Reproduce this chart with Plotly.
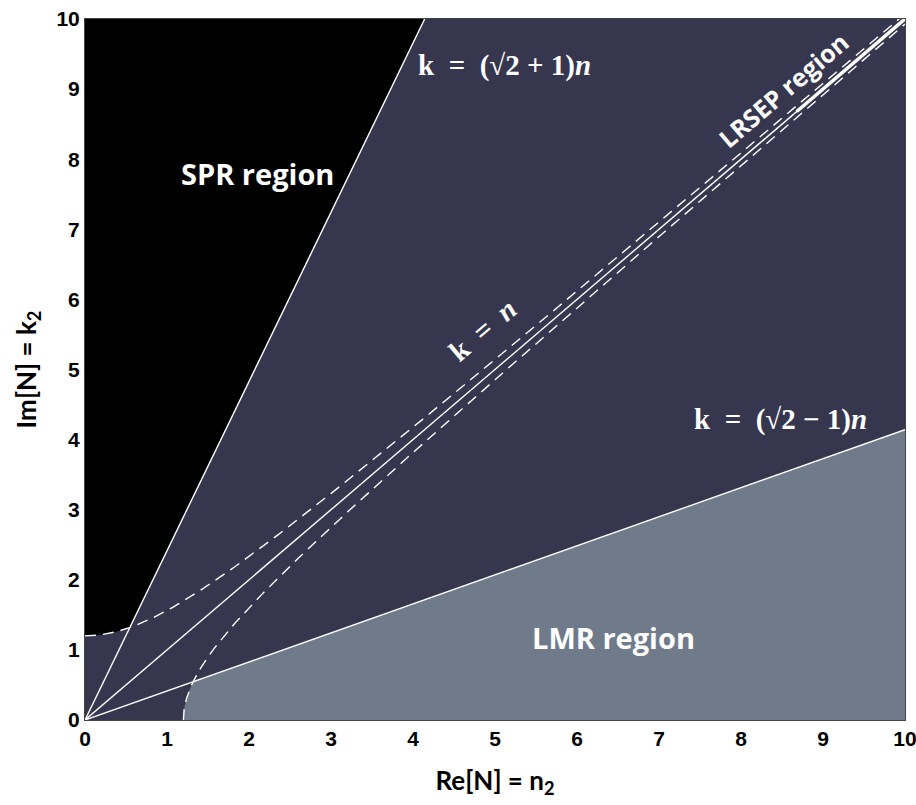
import numpy as np
import plotly.graph_objects as go

# ---- data / definitions ----
tick_vals = [0, 1, 2, 3, 4, 5, 6, 7, 8, 9, 10]
tick_text = ["0", "1", "2", "3", "4", "5", "6", "7", "8", "9", "10"]
slope_upper = np.sqrt(2) + 1      # k = (sqrt2 + 1) n
slope_lower = np.sqrt(2) - 1      # k = (sqrt2 - 1) n
slope_mid = 1.0                   # k = n
hyper_c = 1.2                     # offset of hyperbolic boundaries k^2 - n^2 = +/- c^2
lrsep_range = [8.68, 10.0]        # thick LRSEP segment along k = n
axis_max = 10.0

NAVY = "#37364f"
SLATE = "#6f7b8b"
BLACK = "#000000"
WHITE = "#ffffff"

fig = go.Figure()

# SPR region (black)
n_int_up = np.sqrt(hyper_c**2 / (slope_upper**2 - 1))
n_h = np.linspace(0, n_int_up, 60)
k_h = np.sqrt(n_h**2 + hyper_c**2)
spr_x = [0.0] + list(n_h) + [axis_max / slope_upper, 0.0]
spr_y = [axis_max] + list(k_h) + [axis_max, axis_max]
fig.add_trace(go.Scatter(x=spr_x, y=spr_y, fill="toself", fillcolor=BLACK,
                         line=dict(width=0), mode="lines", hoverinfo="skip", showlegend=False))

# LMR region (slate)
n_int_lo = np.sqrt(hyper_c**2 / (1 - slope_lower**2))
n_l = np.linspace(hyper_c, n_int_lo, 60)
k_l = np.sqrt(np.maximum(n_l**2 - hyper_c**2, 0))
lmr_x = list(n_l) + [axis_max, axis_max, hyper_c]
lmr_y = list(k_l) + [axis_max * slope_lower, 0.0, 0.0]
fig.add_trace(go.Scatter(x=lmr_x, y=lmr_y, fill="toself", fillcolor=SLATE,
                         line=dict(width=0), mode="lines", hoverinfo="skip", showlegend=False))

# Dashed hyperbolas
dash_style = dict(color=WHITE, width=1.4, dash="11px,7px")
n_a = np.linspace(0, axis_max, 300)
fig.add_trace(go.Scatter(x=n_a, y=np.sqrt(n_a**2 + hyper_c**2), mode="lines",
                         line=dash_style, hoverinfo="skip", showlegend=False))
n_b = np.concatenate([[hyper_c], hyper_c + np.geomspace(1e-5, 0.5, 80),
                      np.linspace(hyper_c + 0.5, axis_max, 250)])
fig.add_trace(go.Scatter(x=n_b, y=np.sqrt(np.maximum(n_b**2 - hyper_c**2, 0)), mode="lines",
                         line=dash_style, hoverinfo="skip", showlegend=False))

# Solid boundary lines
for s, xe in [(slope_upper, axis_max / slope_upper), (slope_mid, axis_max), (slope_lower, axis_max)]:
    fig.add_trace(go.Scatter(x=[0, xe], y=[0, s * xe], mode="lines",
                             line=dict(color=WHITE, width=1.4),
                             hoverinfo="skip", showlegend=False))

# LRSEP thick segment
fig.add_trace(go.Scatter(x=lrsep_range, y=[v * slope_mid for v in lrsep_range], mode="lines",
                         line=dict(color=WHITE, width=3.5),
                         hoverinfo="skip", showlegend=False))

SANS = "Open Sans, Lato, sans-serif"
ann_font = dict(family=SANS, color=WHITE, size=29)
math_font = dict(family="Liberation Serif, DejaVu Serif, serif", color=WHITE, size=29)
sp = "\u2002"
annotations = [
    dict(x=2.1, y=7.8, text="<b>SPR region</b>", font=ann_font),
    dict(x=6.45, y=1.17, text="<b>LMR region</b>", font=ann_font),
    dict(x=5.12, y=9.33, text=f"<b>k{sp}={sp}(√2 + 1)<i>n</i></b>", font=math_font),
    dict(x=8.48, y=4.28, text=f"<b>k{sp}={sp}(√2 − 1)<i>n</i></b>", font=math_font),
    dict(x=4.85, y=5.56, text=f"<b>k{sp}={sp}<i>n</i></b>", font=math_font, textangle=-40.5),
    dict(x=8.51, y=8.99, text="<b>LRSEP region</b>",
         font=dict(family=SANS, color=WHITE, size=25), textangle=-40.5),
]
for a in annotations:
    a.update(xref="x", yref="y", showarrow=False)
fig.update_layout(annotations=annotations)

tick_font = dict(family="Liberation Sans Narrow, Liberation Sans, Arial, sans-serif", size=21, color="black")
title_font = dict(family="Lato, Open Sans, sans-serif", size=26, color="black")
fig.update_xaxes(range=[0, axis_max], tickvals=tick_vals, ticktext=[f"<b>{t}</b>" for t in tick_text],
                 tickfont=tick_font, showgrid=False, zeroline=False, ticks="", automargin=False,
                 ticklabeloverflow="allow",
                 showline=True, linecolor="#444444", linewidth=1, mirror=True,
                 title=dict(text="<b>Re[N] = n<sub>2</sub></b>", font=title_font, standoff=22))
fig.update_yaxes(range=[0, axis_max], tickvals=tick_vals, ticktext=[f"<b>{t}</b>" for t in tick_text],
                 tickfont=tick_font, showgrid=False, zeroline=False, ticks="", automargin=False,
                 ticklabeloverflow="allow",
                 showline=True, linecolor="#444444", linewidth=1, mirror=True,
                 title=dict(text="<b>Im[N] = k<sub>2</sub></b>", font=title_font, standoff=12))

fig.update_layout(width=916, height=805, plot_bgcolor=NAVY, paper_bgcolor="white",
                  margin=dict(l=85, r=11, t=19, b=85), showlegend=False)

fig.write_html("out.html")
